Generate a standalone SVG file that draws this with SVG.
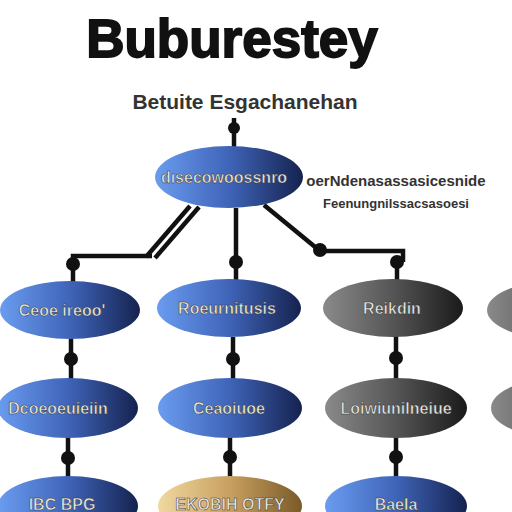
<svg xmlns="http://www.w3.org/2000/svg" width="512" height="512" viewBox="0 0 512 512">
<defs>
<linearGradient id="blue" x1="0" y1="0" x2="1" y2="0"><stop offset="0" stop-color="#6a9cf0"/><stop offset="0.5" stop-color="#3f64b8"/><stop offset="1" stop-color="#15224f"/></linearGradient>
<linearGradient id="gray" x1="0" y1="0" x2="1" y2="0"><stop offset="0" stop-color="#8a8a8a"/><stop offset="0.5" stop-color="#555"/><stop offset="1" stop-color="#1a1a1a"/></linearGradient>
<linearGradient id="gold" x1="0" y1="0" x2="1" y2="0"><stop offset="0" stop-color="#f0d8a0"/><stop offset="0.5" stop-color="#c8a060"/><stop offset="1" stop-color="#7a5a28"/></linearGradient>
</defs>
<style>
.t{font-family:"Liberation Sans",Arial,sans-serif;font-weight:bold;text-anchor:middle}
.nt{font-family:"Liberation Sans",Arial,sans-serif;font-weight:bold;font-size:16px;fill:#e8e8e0;stroke:#333;stroke-width:0.5;text-anchor:middle}
.ln{stroke:#111;stroke-width:4.5;fill:none}
.dot{fill:#111}
</style>
<rect width="512" height="512" fill="#fff"/>
<text class="t" x="232" y="57" font-size="53" fill="#111" stroke="#111" stroke-width="1.8">Buburestey</text>
<text class="t" x="245" y="109" font-size="21" fill="#333">Betuite Esgachanehan</text>
<text class="t" x="396" y="186" font-size="15" fill="#333">oerNdenasassasicesnide</text>
<text class="t" x="396" y="208" font-size="13" fill="#333">Feenungnilssacsasoesi</text>
<g id="connectors">
<line class="ln" x1="234" y1="118" x2="234" y2="147"/>
<circle class="dot" cx="234" cy="128" r="6"/>
<line class="ln" x1="190" y1="206" x2="146" y2="257"/>
<line class="ln" x1="199" y1="207" x2="155" y2="258"/>
<polyline class="ln" points="73,266 73,256 152,256"/>
<line class="ln" x1="236" y1="208" x2="236" y2="262"/>
<polyline class="ln" points="264,205 320,251 403,251 403,262"/>
<circle class="dot" cx="73" cy="264" r="7"/>
<circle class="dot" cx="236" cy="262" r="7"/>
<circle class="dot" cx="320" cy="250" r="7"/>
<circle class="dot" cx="397" cy="262" r="7"/>
<line class="ln" x1="73" y1="262" x2="73" y2="283"/>
<line class="ln" x1="236" y1="262" x2="236" y2="280"/>
<line class="ln" x1="397" y1="262" x2="397" y2="280"/>
<line class="ln" x1="71" y1="338" x2="71" y2="380"/>
<line class="ln" x1="233" y1="337" x2="233" y2="380"/>
<line class="ln" x1="396" y1="336" x2="396" y2="380"/>
<circle class="dot" cx="71" cy="359" r="7"/>
<circle class="dot" cx="233" cy="359" r="7"/>
<circle class="dot" cx="396" cy="358" r="7"/>
<line class="ln" x1="68" y1="437" x2="68" y2="478"/>
<line class="ln" x1="230" y1="437" x2="230" y2="478"/>
<line class="ln" x1="396" y1="437" x2="396" y2="478"/>
<circle class="dot" cx="68" cy="458" r="7"/>
<circle class="dot" cx="230" cy="457" r="7"/>
<circle class="dot" cx="396" cy="457" r="7"/>
</g>
<g id="n0"><ellipse cx="229" cy="177" rx="74" ry="31" fill="url(#blue)"/><text class="nt" x="224" y="183">dısecowoossnro</text></g>
<g id="n1"><ellipse cx="70" cy="310" rx="70" ry="29" fill="url(#blue)"/><text class="nt" x="62" y="316">Ceoe ireoo'</text></g>
<g id="n2"><ellipse cx="229" cy="308" rx="72" ry="29" fill="url(#blue)"/><text class="nt" x="227" y="314">Roeurnitusis</text></g>
<g id="n3"><ellipse cx="393" cy="308" rx="70" ry="29" fill="url(#gray)"/><text class="nt" x="392" y="314">Reikdin</text></g>
<g id="n4"><ellipse cx="557" cy="310" rx="70" ry="29" fill="url(#gray)"/></g>
<g id="n5"><ellipse cx="68" cy="408" rx="70" ry="30" fill="url(#blue)"/><text class="nt" x="58" y="414">Dcoeoeuieiin</text></g>
<g id="n6"><ellipse cx="230" cy="408" rx="72" ry="30" fill="url(#blue)"/><text class="nt" x="229" y="414">Ceaoiuoe</text></g>
<g id="n7"><ellipse cx="396" cy="408" rx="71" ry="30" fill="url(#gray)"/><text class="nt" x="396" y="414">Loiwiunilneiue</text></g>
<g id="n8"><ellipse cx="561" cy="408" rx="70" ry="30" fill="url(#gray)"/></g>
<g id="n9"><ellipse cx="68" cy="506" rx="70" ry="30" fill="url(#blue)"/><text class="nt" x="62" y="510">IBC BPG</text></g>
<g id="n10"><ellipse cx="230" cy="506" rx="72" ry="30" fill="url(#gold)"/><text class="nt" x="230" y="510">EKOBIH OTFY</text></g>
<g id="n11"><ellipse cx="396" cy="506" rx="71" ry="30" fill="url(#blue)"/><text class="nt" x="396" y="510">BaeIa</text></g>
</svg>
